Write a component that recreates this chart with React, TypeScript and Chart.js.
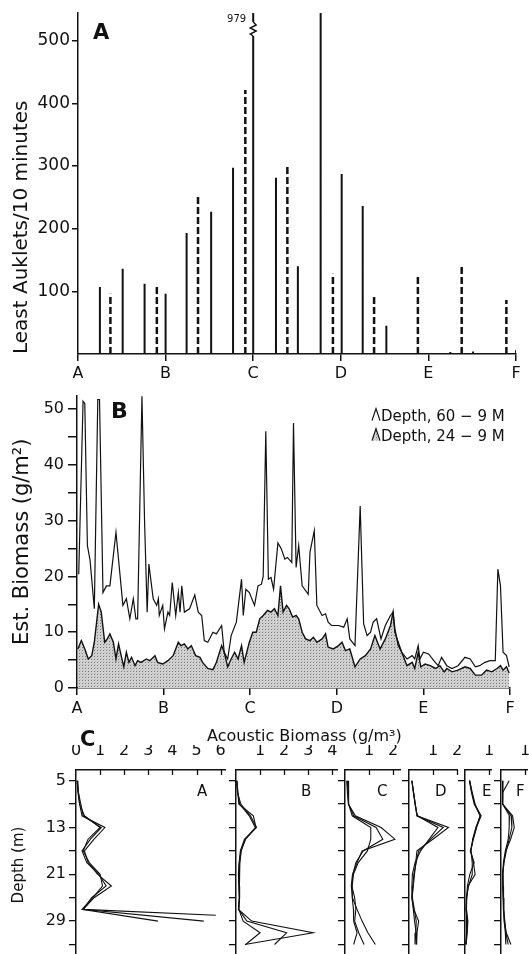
import React, { useEffect, useRef } from 'react';
import { Chart, registerables } from 'chart.js';
Chart.register(...registerables);

const FONT = '"DejaVu Sans", "Liberation Sans", sans-serif';
const INK = '#111';
Chart.defaults.font.family = FONT;
Chart.defaults.color = INK;

// ---------- Panel A: Least Auklets / 10 minutes ----------
const SITE_LABELS = ['A', 'B', 'C', 'D', 'E', 'F'];
const AUKLET_TICKS = [100, 200, 300, 400, 500];
const AUKLET_MAX = 544;
const SOLID_POS = [0.25, 0.51, 0.76, 1.0, 1.24, 1.52, 1.77, 2.0, 2.26, 2.51, 2.77, 3.01, 3.25, 3.52, 4.25, 4.51, 5.0];
const SOLID_COUNT = [107, 136, 112, 96, 193, 227, 297, 979, 281, 140, 545, 287, 236, 45, 3, 4, 6];
const DASHED_POS = [0.37, 0.9, 1.37, 1.91, 2.39, 2.91, 3.38, 3.88, 4.38, 4.89];
const DASHED_COUNT = [96, 110, 254, 421, 303, 128, 91, 123, 139, 86];

// ---------- Panel B: Est. Biomass (g/m2) ----------
const BIOMASS_TICKS = [0, 5, 10, 15, 20, 25, 30, 35, 40, 45, 50];
const BIOMASS_MAX = 52.4;
const DEEP_POS = [0.02, 0.07, 0.09, 0.12, 0.15, 0.2, 0.24, 0.26, 0.3, 0.34, 0.38, 0.45, 0.53, 0.57, 0.61, 0.65, 0.68, 0.7, 0.75, 0.78, 0.81, 0.83, 0.88, 0.92, 0.94, 0.95, 0.99, 1.01, 1.05, 1.07, 1.1, 1.14, 1.17, 1.19, 1.21, 1.24, 1.3, 1.36, 1.4, 1.44, 1.47, 1.51, 1.57, 1.61, 1.67, 1.7, 1.74, 1.78, 1.84, 1.9, 1.92, 1.95, 1.99, 2.05, 2.09, 2.13, 2.15, 2.18, 2.21, 2.24, 2.27, 2.32, 2.36, 2.4, 2.43, 2.48, 2.5, 2.53, 2.56, 2.58, 2.6, 2.67, 2.69, 2.74, 2.77, 2.83, 2.87, 2.9, 2.94, 3.02, 3.08, 3.12, 3.15, 3.21, 3.27, 3.29, 3.31, 3.35, 3.39, 3.42, 3.46, 3.51, 3.56, 3.62, 3.65, 3.67, 3.71, 3.75, 3.81, 3.87, 3.9, 3.94, 3.96, 4.0, 4.06, 4.12, 4.17, 4.21, 4.27, 4.33, 4.4, 4.48, 4.54, 4.6, 4.65, 4.71, 4.77, 4.83, 4.86, 4.89, 4.92, 4.96, 4.99];
const DEEP_BIOMASS = [20.4, 51.4, 51.0, 25.5, 23, 14.2, 51.7, 51.7, 17.1, 18.3, 18.3, 27.9, 14.8, 16, 12.4, 16, 12.4, 12.4, 52.3, 30, 13.6, 22.2, 16, 14.8, 16, 13, 14.8, 10.6, 13.6, 13, 18.9, 13, 17.1, 13.6, 18.3, 13.6, 14.2, 16.7, 13.6, 13, 8.5, 8.2, 10, 9.7, 11.2, 6.4, 5.2, 9.4, 11.8, 19.5, 13, 17.7, 17.1, 14.8, 18.3, 18.6, 20, 46, 19.5, 19.8, 17.7, 26, 24.9, 23.1, 23.4, 22.5, 47.5, 21.6, 25.5, 21.9, 18.3, 16.8, 24.3, 28.2, 14.8, 13, 13.3, 11.8, 11.2, 11.2, 10.9, 12.4, 8.8, 7.6, 32.6, 21.9, 11.5, 9.4, 10, 11.8, 12.4, 8.8, 11.2, 13, 13.6, 10, 8.2, 6.4, 5.2, 5.8, 5.2, 7.6, 5.2, 6.4, 6.1, 4.9, 4, 5.5, 4, 3.5, 4, 5.5, 5.2, 3.8, 4, 4.6, 4.9, 4.9, 21.3, 18.3, 6.4, 5.8, 3.8];
const SHALLOW_POS = [0.01, 0.05, 0.09, 0.13, 0.17, 0.2, 0.25, 0.28, 0.32, 0.35, 0.38, 0.42, 0.45, 0.48, 0.51, 0.54, 0.57, 0.6, 0.63, 0.67, 0.7, 0.74, 0.8, 0.84, 0.9, 0.93, 0.99, 1.05, 1.11, 1.17, 1.2, 1.24, 1.28, 1.32, 1.37, 1.42, 1.45, 1.51, 1.57, 1.61, 1.67, 1.7, 1.74, 1.78, 1.82, 1.86, 1.9, 1.93, 1.99, 2.03, 2.07, 2.11, 2.15, 2.2, 2.24, 2.28, 2.32, 2.35, 2.38, 2.42, 2.45, 2.49, 2.53, 2.56, 2.6, 2.64, 2.69, 2.73, 2.77, 2.83, 2.87, 2.9, 2.96, 3.02, 3.06, 3.1, 3.15, 3.21, 3.27, 3.33, 3.39, 3.44, 3.5, 3.56, 3.62, 3.65, 3.67, 3.71, 3.75, 3.81, 3.87, 3.9, 3.94, 3.97, 4.02, 4.08, 4.14, 4.19, 4.24, 4.27, 4.33, 4.4, 4.48, 4.54, 4.6, 4.67, 4.73, 4.79, 4.85, 4.89, 4.92, 4.96, 4.99];
const SHALLOW_BIOMASS = [7, 8.5, 7, 5.2, 5.8, 8.2, 15, 13.6, 8.2, 8.8, 9.7, 8.2, 5.2, 7.9, 5.8, 3.8, 6.4, 4.6, 5.5, 4, 4.9, 4.6, 5.2, 4.9, 5.8, 4.6, 4.3, 4.9, 5.8, 8.2, 7.6, 7.9, 7, 7.6, 5.8, 5.5, 4.6, 3.5, 3.3, 4.6, 7.6, 6.4, 3.8, 5.2, 6.4, 5.2, 7.6, 4.6, 8.2, 10, 10, 12.4, 13, 13.9, 13.6, 14.2, 13, 18.3, 13.6, 14.8, 14.2, 12.7, 13, 12.4, 10, 8.8, 8.5, 9.1, 8.2, 8.8, 9.7, 7.3, 7, 7.6, 8.2, 6.7, 7, 3.8, 5.2, 5.8, 7, 9.4, 7, 8.8, 11.2, 13.6, 10.6, 7.6, 6.4, 4, 4.6, 3.5, 6.4, 3.8, 4.3, 4, 3.5, 4, 2.9, 3.5, 2.9, 3.2, 3.8, 3.5, 2.3, 2.3, 3.2, 2.9, 3.5, 4, 3.2, 3.8, 2.7];
const LEGEND_LINES = ['Depth, 60 \u2212 9 M', 'Depth, 24 \u2212 9 M'];

// ---------- Panel C: Acoustic biomass profiles ----------
const DEPTH_TICKS = [5, 9, 13, 17, 21, 25, 29, 33];
const DEPTH_LABELS = [5, 13, 21, 29];
const DEPTH_MIN = 3.17;
const DEPTH_MAX = 35.65;
const DEPTHS = [5, 7, 9, 11, 13, 15, 17, 19, 21, 23, 25, 27, 29, 31, 33];
const DEPTHS_A = [5, 7, 9, 11, 13, 15, 17, 19, 21, 23, 25, 27, 29];
const DEPTHS_A1 = [5, 7, 9, 11, 13, 15, 17, 19, 21, 23, 25, 27, 28];
const PROFILE_A1 = [0.05, 0.08, 0.15, 0.25, 1.2, 0.75, 0.35, 0.5, 0.9, 1.47, 0.75, 0.3, 5.8];
const PROFILE_A2 = [0.05, 0.1, 0.2, 0.3, 1.05, 0.6, 0.25, 0.45, 0.95, 1.25, 0.65, 0.3, 5.3];
const PROFILE_A3 = [0.05, 0.1, 0.15, 0.35, 1.0, 0.5, 0.3, 0.55, 1.0, 1.1, 0.7, 0.25, 3.4];
const PROFILE_B1 = [0.03, 0.07, 0.12, 0.72, 0.83, 0.4, 0.2, 0.15, 0.12, 0.12, 0.14, 0.1, 0.65, 3.2, 0.37];
const PROFILE_B2 = [0.03, 0.06, 0.2, 0.6, 0.85, 0.35, 0.18, 0.13, 0.1, 0.13, 0.15, 0.12, 0.3, 1.0, 0.4];
const PROFILE_B3 = [0.04, 0.08, 0.15, 0.55, 0.8, 0.38, 0.22, 0.16, 0.13, 0.14, 0.13, 0.11, 0.45, 2.1, 1.6];
const PROFILE_C1 = [0.07, 0.1, 0.14, 0.43, 1.5, 2.07, 0.71, 0.5, 0.31, 0.26, 0.31, 0.5, 0.71, 0.95, 1.26];
const PROFILE_C2 = [0.1, 0.12, 0.15, 0.36, 1.29, 1.57, 0.75, 0.45, 0.33, 0.28, 0.4, 0.45, 0.4, 0.57, 0.79];
const PROFILE_C3 = [0.14, 0.14, 0.16, 0.3, 1.07, 1.07, 0.93, 0.55, 0.35, 0.3, 0.3, 0.35, 0.36, 0.5, 0.36];
const PROFILE_D1 = [0.12, 0.19, 0.26, 0.33, 1.64, 0.99, 0.33, 0.28, 0.23, 0.18, 0.12, 0.2, 0.4, 0.33, 0.3];
const PROFILE_D2 = [0.12, 0.19, 0.26, 0.33, 1.42, 0.9, 0.4, 0.3, 0.2, 0.16, 0.14, 0.22, 0.3, 0.28, 0.25];
const PROFILE_D3 = [0.12, 0.18, 0.25, 0.35, 1.2, 0.84, 0.48, 0.25, 0.14, 0.12, 0.12, 0.18, 0.23, 0.3, 0.32];
const PROFILE_E1 = [0.2, 0.28, 0.4, 0.67, 0.47, 0.33, 0.24, 0.35, 0.42, 0.13, 0.07, 0.04, 0.1, 0.08, 0.03];
const PROFILE_E2 = [0.18, 0.27, 0.38, 0.64, 0.45, 0.32, 0.25, 0.3, 0.3, 0.15, 0.06, 0.05, 0.08, 0.06, 0.04];
const PROFILE_E3 = [0.19, 0.3, 0.42, 0.62, 0.48, 0.35, 0.22, 0.38, 0.2, 0.1, 0.07, 0.06, 0.12, 0.09, 0.05];
const PROFILE_F1 = [0.34, 0.07, 0.07, 0.48, 0.55, 0.4, 0.2, 0.12, 0.07, 0.08, 0.1, 0.12, 0.14, 0.22, 0.41];
const PROFILE_F2 = [0.07, 0.06, 0.07, 0.42, 0.45, 0.34, 0.22, 0.12, 0.08, 0.09, 0.1, 0.11, 0.16, 0.2, 0.3];
const PROFILE_F3 = [0.08, 0.06, 0.08, 0.35, 0.34, 0.3, 0.18, 0.1, 0.07, 0.07, 0.09, 0.1, 0.13, 0.18, 0.2];
const SUB_NAMES = ['A', 'B', 'C', 'D', 'E', 'F'];
const SUB_XMAX = [6.2, 4.2, 2.3, 2.0, 1.1, 1.08];
const SUB_XTICKS = [[0, 1, 2, 3, 4, 5, 6], [1, 2, 3, 4], [1, 2], [1, 2], [1], [1]];
const SUB_LINES = [
  [PROFILE_A1, PROFILE_A2, PROFILE_A3],
  [PROFILE_B1, PROFILE_B2, PROFILE_B3],
  [PROFILE_C1, PROFILE_C2, PROFILE_C3],
  [PROFILE_D1, PROFILE_D2, PROFILE_D3],
  [PROFILE_E1, PROFILE_E2, PROFILE_E3],
  [PROFILE_F1, PROFILE_F2, PROFILE_F3],
];
const SUB_DEPTHS = [[DEPTHS_A1, DEPTHS_A, DEPTHS_A], [DEPTHS, DEPTHS, DEPTHS], [DEPTHS, DEPTHS, DEPTHS], [DEPTHS, DEPTHS, DEPTHS], [DEPTHS, DEPTHS, DEPTHS], [DEPTHS, DEPTHS, DEPTHS]];

// layout (pixels)
const SUB_AXIS_LEFT = [76, 236, 345, 409, 465, 501];
const SUB_LETTER_X = [197, 301, 377, 435, 482, 516];
const PX_PER_UNIT = 24.1;

const font = (size: number, weight: any = 'normal') => ({ family: FONT, size, weight });

function stems(pos: number[], val: number[]) {
  const out: any[] = [];
  pos.forEach((x, i) => {
    out.push({ x, y: 0 }, { x, y: val[i] }, { x, y: null });
  });
  return out;
}

function stipple() {
  const c = document.createElement('canvas');
  c.width = 3;
  c.height = 3;
  const g = c.getContext('2d')!;
  g.fillStyle = '#d2d2d2';
  g.fillRect(0, 0, 3, 3);
  g.fillStyle = '#777';
  g.fillRect(1, 1, 1, 1);
  g.fillStyle = '#bbb';
  g.fillRect(2, 0, 1, 1);
  return g.createPattern(c, 'repeat');
}

const baseOpts = {
  animation: false,
  responsive: false,
  events: [],
  plugins: { legend: { display: false }, tooltip: { enabled: false } },
};

const breakMarker = {
  id: 'breakMarker',
  afterDatasetsDraw(chart: any) {
    const { ctx, chartArea, scales } = chart;
    const x = scales.x;
    const y = scales.y;
    SOLID_POS.forEach((p, i) => {
      const v = SOLID_COUNT[i];
      if (v <= y.max + 100) return;
      const px = x.getPixelForValue(p);
      const t = chartArea.top;
      ctx.save();
      ctx.fillStyle = '#fff';
      ctx.fillRect(px - 4, t + 9, 8, 14);
      ctx.strokeStyle = INK;
      ctx.lineWidth = 1.4;
      ctx.beginPath();
      ctx.moveTo(px, t + 9);
      ctx.lineTo(px + 3, t + 12);
      ctx.lineTo(px - 3, t + 15);
      ctx.lineTo(px + 3, t + 18);
      ctx.lineTo(px - 3, t + 21);
      ctx.lineTo(px, t + 23);
      ctx.stroke();
      ctx.fillStyle = INK;
      ctx.font = `10px ${FONT}`;
      ctx.textAlign = 'right';
      ctx.textBaseline = 'alphabetic';
      ctx.fillText(String(v), px - 7, t + 9);
      ctx.restore();
    });
  },
};

function makeAuklets() {
  return {
    type: 'line',
    data: {
      datasets: [
        { data: stems(SOLID_POS, SOLID_COUNT), borderColor: INK, borderWidth: 2, pointRadius: 0, borderCapStyle: 'butt', spanGaps: false },
        { data: stems(DASHED_POS, DASHED_COUNT), borderColor: INK, borderWidth: 2.5, borderDash: [7, 3], pointRadius: 0, borderCapStyle: 'butt', spanGaps: false },
      ],
    },
    options: {
      ...baseOpts,
      layout: { padding: { left: 0, right: 13, top: 13, bottom: 0 } },
      scales: {
        x: {
          type: 'linear', min: 0, max: 5,
          afterBuildTicks: (s: any) => { s.ticks = SITE_LABELS.map((_, i) => ({ value: i })); },
          afterFit: (s: any) => { s.height = 26; },
          ticks: { callback: (v: any) => SITE_LABELS[v], font: font(16), color: INK, padding: 3, maxRotation: 0, autoSkip: false },
          grid: { drawOnChartArea: false, tickLength: 7, color: INK, lineWidth: 1.5 },
          border: { color: INK, width: 1.5 },
        },
        y: {
          type: 'linear', min: 0, max: AUKLET_MAX,
          afterBuildTicks: (s: any) => { s.ticks = AUKLET_TICKS.map((v) => ({ value: v })); },
          afterFit: (s: any) => { s.width = 78; },
          ticks: { font: font(17), color: INK, padding: 2 },
          grid: { drawOnChartArea: false, tickLength: 6, color: INK, lineWidth: 1.5 },
          border: { color: INK, width: 1.5 },
          title: { display: true, text: 'Least Auklets/10 minutes', align: 'start', font: font(20), color: INK, padding: { top: 10, bottom: 0 } },
        },
      },
    },
    plugins: [breakMarker],
  };
}

const biomassLegend = {
  id: 'biomassLegend',
  afterDraw(chart: any) {
    const { ctx, chartArea } = chart;
    const x0 = chartArea.right - 130;
    const base1 = chartArea.top + 25;
    const base2 = chartArea.top + 45;
    ctx.save();
    ctx.strokeStyle = INK;
    ctx.lineWidth = 1.2;
    // open peak symbol for the 60-9 m series
    ctx.beginPath();
    ctx.moveTo(x0 - 8, base1);
    ctx.lineTo(x0 - 4, base1 - 12);
    ctx.lineTo(x0, base1);
    ctx.stroke();
    // stippled peak symbol for the 24-9 m series
    ctx.beginPath();
    ctx.moveTo(x0 - 8, base2);
    ctx.lineTo(x0 - 4, base2 - 12);
    ctx.lineTo(x0, base2);
    ctx.closePath();
    ctx.fillStyle = chart.data.datasets[1].backgroundColor;
    ctx.fill();
    ctx.beginPath();
    ctx.moveTo(x0 - 8, base2);
    ctx.lineTo(x0 - 4, base2 - 12);
    ctx.lineTo(x0, base2);
    ctx.stroke();
    ctx.fillStyle = INK;
    ctx.font = `15px ${FONT}`;
    ctx.textAlign = 'left';
    ctx.textBaseline = 'alphabetic';
    ctx.fillText(LEGEND_LINES[0], x0 + 1, base1);
    ctx.fillText(LEGEND_LINES[1], x0 + 1, base2);
    ctx.restore();
  },
};

function makeBiomass() {
  const pat = stipple();
  return {
    type: 'line',
    data: {
      datasets: [
        { data: DEEP_POS.map((x, i) => ({ x, y: DEEP_BIOMASS[i] })), borderColor: INK, borderWidth: 1.2, pointRadius: 0, tension: 0, fill: false },
        { data: SHALLOW_POS.map((x, i) => ({ x, y: SHALLOW_BIOMASS[i] })), borderColor: INK, borderWidth: 1.4, pointRadius: 0, tension: 0, fill: 'origin', backgroundColor: pat },
      ],
    },
    options: {
      ...baseOpts,
      layout: { padding: { left: 0, right: 19, top: 13, bottom: 0 } },
      scales: {
        x: {
          type: 'linear', min: 0, max: 5,
          afterBuildTicks: (s: any) => { s.ticks = SITE_LABELS.map((_, i) => ({ value: i })); },
          afterFit: (s: any) => { s.height = 32; },
          ticks: { callback: (v: any) => SITE_LABELS[v], font: font(16), color: INK, padding: 4, maxRotation: 0, autoSkip: false },
          grid: { drawOnChartArea: false, tickLength: 7, color: INK, lineWidth: 1.5 },
          border: { color: INK, width: 1.5 },
        },
        y: {
          type: 'linear', min: 0, max: BIOMASS_MAX,
          afterBuildTicks: (s: any) => { s.ticks = BIOMASS_TICKS.map((v) => ({ value: v })); },
          afterFit: (s: any) => { s.width = 77; },
          ticks: { callback: (v: any) => (v % 10 === 0 ? String(v) : ''), font: font(16), color: INK, padding: 4 },
          grid: { drawOnChartArea: false, tickLength: 9, color: INK, lineWidth: 1.5 },
          border: { color: INK, width: 1.5 },
          title: { display: true, text: 'Est. Biomass (g/m\u00B2)', font: font(21), color: INK, padding: { top: 10, bottom: 0 } },
        },
      },
    },
    plugins: [biomassLegend],
  };
}

const innerTicks = {
  id: 'innerTicks',
  afterDraw(chart: any) {
    const s = chart.scales.x;
    const ctx = chart.ctx;
    ctx.save();
    ctx.strokeStyle = INK;
    ctx.lineWidth = 1.3;
    s.ticks.forEach((t: any) => {
      if (t.value <= 0) return;
      const px = Math.round(s.getPixelForValue(t.value)) + 0.5;
      ctx.beginPath();
      ctx.moveTo(px, s.bottom);
      ctx.lineTo(px, s.bottom + 5);
      ctx.stroke();
    });
    ctx.restore();
  },
};

const SUB_YAXIS_W = (i: number) => (i === 0 ? 76 : 9);
const subCanvasWidth = (i: number) => Math.ceil(SUB_YAXIS_W(i) + SUB_XMAX[i] * PX_PER_UNIT + 8);

function makeProfile(i: number) {
  const first = i === 0;
  const rightPad = subCanvasWidth(i) - SUB_YAXIS_W(i) - SUB_XMAX[i] * PX_PER_UNIT;
  return {
    type: 'line',
    data: {
      datasets: SUB_LINES[i].map((vals, k) => ({
        data: vals.map((v, j) => ({ x: v, y: SUB_DEPTHS[i][k][j] })),
        borderColor: INK, borderWidth: 1.1, pointRadius: 0, tension: 0, fill: false,
      })),
    },
    options: {
      ...baseOpts,
      layout: { padding: { left: 0, right: rightPad, top: 0, bottom: 15 } },
      scales: {
        x: {
          type: 'linear', position: 'top', min: 0, max: SUB_XMAX[i],
          afterBuildTicks: (s: any) => { s.ticks = SUB_XTICKS[i].map((v) => ({ value: v })); },
          afterFit: (s: any) => { s.height = 25; },
          ticks: { font: font(16), color: INK, padding: 2, maxRotation: 0, autoSkip: false },
          grid: { display: false },
          border: { display: true, color: INK, width: 1.5 },
        },
        y: {
          type: 'linear', reverse: true, min: DEPTH_MIN, max: DEPTH_MAX,
          afterBuildTicks: (s: any) => { s.ticks = DEPTH_TICKS.map((v) => ({ value: v })); },
          afterFit: (s: any) => { s.width = SUB_YAXIS_W(i); },
          ticks: { display: first, callback: (v: any) => (DEPTH_LABELS.includes(v) ? String(v) : ''), font: font(16), color: INK, padding: 3 },
          grid: { drawOnChartArea: false, tickLength: 7, color: INK, lineWidth: 1.3 },
          border: { color: INK, width: 1.5 },
          title: first
            ? { display: true, text: 'Depth (m)', font: font(15), color: INK, padding: { top: 10, bottom: 0 } }
            : { display: false },
        },
      },
    },
    plugins: [innerTicks],
  };
}

function ChartCanvas({ left, top, width, height, make }: { left: number; top: number; width: number; height: number; make: () => any }) {
  const ref = useRef<HTMLCanvasElement>(null);
  useEffect(() => {
    const chart = new Chart(ref.current as HTMLCanvasElement, make());
    return () => chart.destroy();
  }, []);
  return <canvas ref={ref} width={width} height={height} style={{ position: 'absolute', left, top, width, height, display: 'block' }} />;
}

function Label({ x, baseline, size, text, bold }: { x: number; baseline: number; size: number; text: string; bold?: boolean }) {
  return (
    <div
      style={{
        position: 'absolute', left: x, top: baseline - 0.846 * size, fontSize: size, lineHeight: `${size}px`,
        fontFamily: FONT, fontWeight: bold ? 'bold' : 'normal', color: INK, whiteSpace: 'nowrap',
      }}
    >
      {text}
    </div>
  );
}

export default function App() {
  return (
    <div style={{ position: 'absolute', left: 0, top: 0, width: 529, height: 954, overflow: 'hidden', background: '#fff' }}>
      <ChartCanvas left={0} top={0} width={529} height={380} make={makeAuklets} />
      <ChartCanvas left={0} top={382} width={529} height={338} make={makeBiomass} />
      {SUB_NAMES.map((name, i) => (
        <ChartCanvas key={name} left={SUB_AXIS_LEFT[i] - SUB_YAXIS_W(i)} top={745} width={subCanvasWidth(i)} height={230} make={() => makeProfile(i)} />
      ))}
      <Label x={93} baseline={39.5} size={21} text="A" bold />
      <Label x={111} baseline={418.5} size={22} text="B" bold />
      <Label x={80} baseline={746.5} size={21} text="C" bold />
      <Label x={207} baseline={742} size={16} text={'Acoustic Biomass (g/m\u00B3)'} />
      {SUB_NAMES.map((name, i) => (
        <Label key={'l' + name} x={SUB_LETTER_X[i]} baseline={797} size={15} text={name} />
      ))}
    </div>
  );
}
